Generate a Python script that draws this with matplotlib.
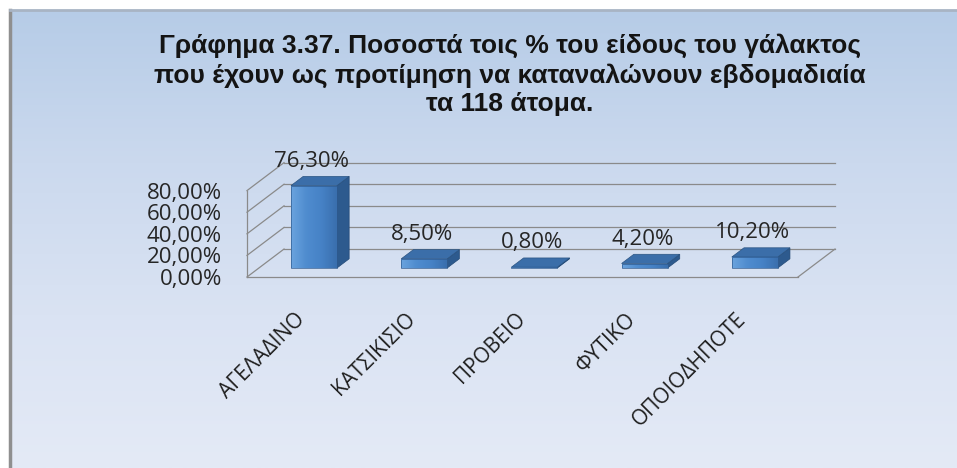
import numpy as np
import matplotlib.pyplot as plt
from matplotlib.colors import LinearSegmentedColormap
from matplotlib.patches import Polygon

# Milk type preference, share of the 118 people (%)
categories = ['ΑΓΕΛΑΔΙΝΟ', 'ΚΑΤΣΙΚΙΣΙΟ', 'ΠΡΟΒΕΙΟ', 'ΦΥΤΙΚΟ', 'ΟΠΟΙΟΔΗΠΟΤΕ']
percentages = [76.3, 8.5, 0.8, 4.2, 10.2]
y_ticks = [0, 20, 40, 60, 80]

title = ('Γράφημα 3.37. Ποσοστά τοις % του είδους του γάλακτος\n'
         'που έχουν ως προτίμηση να καταναλώνουν εβδομαδιαία\n'
         'τα 118 άτομα.')

W, H, DPI = 957, 468, 100

# pseudo-3d frame: pixels per category / per percent, floor corner in pixels
px_cat, px_pct = 110.2, 1.08
ox, oy = 247, 277
depth_dx, depth_dy = 0.336, 25.9     # wall depth in data units
bar_w = 0.417
bar_front, bar_depth = 0.32, 0.33    # fractions of the wall depth

fig = plt.figure(figsize=(W / DPI, H / DPI), dpi=DPI)
fig.patch.set_facecolor('white')

# background panel with a vertical blue gradient
bg = fig.add_axes([10 / W, 0, 1 - 10 / W, (H - 10) / H])
bg_cmap = LinearSegmentedColormap.from_list(
    'bg', ['#b6cce7', '#cbd9ee', '#dae3f3', '#e4eaf6'])
bg.imshow(np.linspace(0, 1, 256).reshape(-1, 1), cmap=bg_cmap,
          aspect='auto', extent=[0, 1, 0, 1])
bg.set_xticks([])
bg.set_yticks([])
for side in ['right', 'bottom']:
    bg.spines[side].set_visible(False)
bg.spines['left'].set_color('#8f8f8f')
bg.spines['left'].set_linewidth(2.5)
bg.spines['top'].set_color('#a8b4c4')
bg.spines['top'].set_linewidth(2)

ax = fig.add_axes([0, 0, 1, 1])
ax.patch.set_alpha(0)

n = len(categories)
wall_col = '#8a8a8a'

# floor and walls
ax.plot([n, n + depth_dx], [0, depth_dy], color=wall_col, lw=0.9, zorder=1)
for v in y_ticks:
    ax.plot([0, depth_dx], [v, v + depth_dy], color=wall_col, lw=0.9, zorder=1)
    ax.plot([depth_dx, n + depth_dx], [v + depth_dy, v + depth_dy],
            color=wall_col, lw=0.9, zorder=1)

front_cmap = LinearSegmentedColormap.from_list(
    'front', ['#6aa3de', '#4f8ccf', '#4682c6', '#3a6fae'])
ddx, ddy = bar_depth * depth_dx, bar_depth * depth_dy

for i, (cat, v) in enumerate(zip(categories, percentages)):
    x0 = i + 0.5 - bar_w / 2 + bar_front * depth_dx
    yb = bar_front * depth_dy
    yt = yb + v
    side = Polygon([(x0 + bar_w, yb), (x0 + bar_w + ddx, yb + ddy),
                    (x0 + bar_w + ddx, yt + ddy), (x0 + bar_w, yt)],
                   closed=True, facecolor='#2d5a8e', edgecolor='#244a76',
                   lw=0.5, zorder=3)
    top = Polygon([(x0, yt), (x0 + bar_w, yt), (x0 + bar_w + ddx, yt + ddy),
                   (x0 + ddx, yt + ddy)],
                  closed=True, facecolor='#3b6ea9', edgecolor='#2b5482',
                  lw=0.5, zorder=3)
    ax.add_patch(side)
    ax.add_patch(top)
    front = Polygon([(x0, yb), (x0 + bar_w, yb), (x0 + bar_w, yt), (x0, yt)],
                    closed=True, facecolor='none', edgecolor='#2f5c92',
                    lw=0.5, zorder=5)
    ax.add_patch(front)
    img = ax.imshow(np.linspace(0, 1, 64).reshape(1, -1), cmap=front_cmap,
                    aspect='auto', extent=[x0, x0 + bar_w, yb, yt], zorder=4)
    img.set_clip_path(front)

    label = f'{v:.2f}%'.replace('.', ',')
    ax.text(i + 0.5 + bar_front * depth_dx - 0.02, yt + ddy + 14, label,
            ha='center', va='center', fontsize=16, family='Open Sans',
            color='#262626', zorder=6)

# axes frame mapped onto pixel layout
ax.set_xlim(-ox / px_cat, (W - ox) / px_cat)
ax.set_ylim(-(H - oy) / px_pct, oy / px_pct)

ax.spines['left'].set_position(('data', 0))
ax.spines['bottom'].set_position(('data', 0))
ax.spines['left'].set_bounds(0, y_ticks[-1])
ax.spines['bottom'].set_bounds(0, n)
for s in ['left', 'bottom']:
    ax.spines[s].set_color(wall_col)
    ax.spines[s].set_linewidth(0.9)
    ax.spines[s].set_zorder(1)
for s in ['right', 'top']:
    ax.spines[s].set_visible(False)

ax.set_yticks(y_ticks, [f'{t:.2f}%'.replace('.', ',') for t in y_ticks],
              fontsize=16, family='Open Sans', color='#262626')
ax.tick_params(axis='y', length=0, pad=18)

ax.set_xticks(np.arange(n) + 0.5, categories, fontsize=15, family='Open Sans',
              color='#1f1f1f', rotation=45, ha='right', va='center',
              rotation_mode='anchor')
ax.tick_params(axis='x', length=0, pad=28)

fig.text(510 / W, 1 - 75 / H, title, ha='center', va='center',
         multialignment='center', fontsize=19, fontweight='bold',
         family='Liberation Sans', color='#141414', linespacing=1.25)

fig.savefig('out.png', dpi=DPI)
